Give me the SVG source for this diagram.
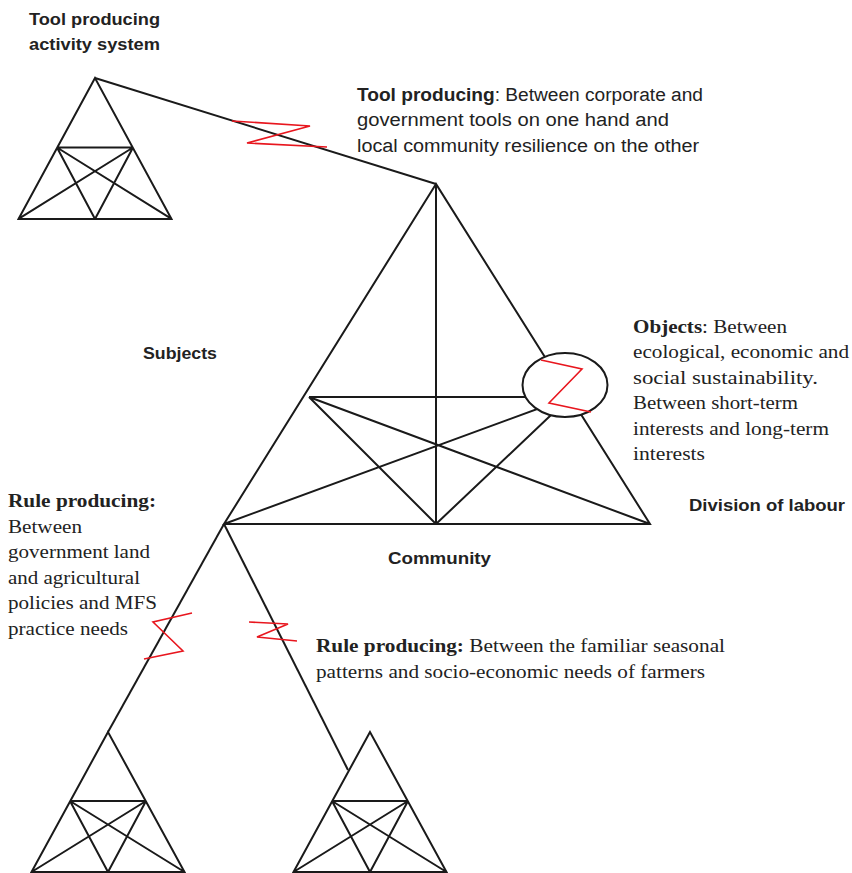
<svg xmlns="http://www.w3.org/2000/svg" width="852" height="873" viewBox="0 0 852 873">
<style>
.ln{fill:none;stroke:#1a1a1a;stroke-width:2;stroke-linejoin:miter;stroke-linecap:butt}
.rd{fill:none;stroke:#e8161e;stroke-width:1.6;stroke-linejoin:miter}
.sb{font-family:"Liberation Sans","Open Sans",sans-serif;font-weight:bold;font-size:17px;fill:#222}
.s{font-family:"Liberation Sans","Open Sans",sans-serif;font-size:18px;fill:#222}
.tb{font-family:"Liberation Serif","Times New Roman",serif;font-weight:bold;font-size:19px;fill:#222}
.t{font-family:"Liberation Serif","Times New Roman",serif;font-size:19px;fill:#222}
</style>
<defs>
<path id="tri" class="ln" d="M0,0 L-76.5,140 L76.5,140 Z M-38,69 L38,69 M-38,69 L76.5,140 M-38,69 L0,140 M38,69 L-76.5,140 M38,69 L0,140"/>
</defs>
<rect width="852" height="873" fill="#fff"/>

<g id="connectors">
<path class="ln" d="M95,78 L436,184"/>
<path class="ln" d="M224,524 L108,732"/>
<path class="ln" d="M224,524 L348,770"/>
<path class="rd" d="M232,121 L310,126 L247,143 L327,147"/>
<path class="rd" d="M192,613 L153,622 L183,651 L144,659"/>
<path class="rd" d="M249,622 L288,624 L257,637 L297,641"/>
</g>

<g id="tool-system">
<use href="#tri" transform="translate(95,78) scale(1,1.007)"/>
</g>

<g id="main-system">
<path class="ln" d="M436,184 L224,524 L650,524 Z M436,184 L436,524 M309,397 L570,397 M309,397 L650,524 M309,397 L436,524 M570,397 L224,524 M570,397 L436,524"/>
<ellipse cx="565" cy="385" rx="42.5" ry="32" fill="#fff" stroke="#1a1a1a" stroke-width="2"/>
<path class="rd" d="M541,360 L582,369 L549,403 L591,412"/>
</g>

<g id="rule-system-left">
<use href="#tri" transform="translate(108,732)"/>
</g>

<g id="rule-system-right">
<use href="#tri" transform="translate(370,732)"/>
</g>

<g id="labels">
<text class="sb" x="29" y="25" textLength="131" lengthAdjust="spacingAndGlyphs">Tool producing</text>
<text class="sb" x="29" y="50" textLength="131" lengthAdjust="spacingAndGlyphs">activity system</text>
<text class="s" x="357" y="101" textLength="346" lengthAdjust="spacingAndGlyphs"><tspan font-weight="bold">Tool producing</tspan>: Between corporate and</text>
<text class="s" x="357" y="126" textLength="312" lengthAdjust="spacingAndGlyphs">government tools on one hand and</text>
<text class="s" x="357" y="152" textLength="342" lengthAdjust="spacingAndGlyphs">local community resilience on the other</text>
<text class="sb" x="143" y="359" textLength="74" lengthAdjust="spacingAndGlyphs">Subjects</text>
<text class="sb" x="689" y="511" textLength="156" lengthAdjust="spacingAndGlyphs">Division of labour</text>
<text class="sb" x="388" y="564" textLength="103" lengthAdjust="spacingAndGlyphs">Community</text>
<text class="t" x="633" y="333" textLength="154" lengthAdjust="spacingAndGlyphs"><tspan font-weight="bold">Objects</tspan>: Between</text>
<text class="t" x="633" y="358" textLength="216" lengthAdjust="spacingAndGlyphs">ecological, economic and</text>
<text class="t" x="633" y="384" textLength="185" lengthAdjust="spacingAndGlyphs">social sustainability.</text>
<text class="t" x="633" y="409" textLength="165" lengthAdjust="spacingAndGlyphs">Between short-term</text>
<text class="t" x="633" y="435" textLength="196" lengthAdjust="spacingAndGlyphs">interests and long-term</text>
<text class="t" x="633" y="460" textLength="72" lengthAdjust="spacingAndGlyphs">interests</text>
<text class="tb" x="8" y="507" textLength="148" lengthAdjust="spacingAndGlyphs">Rule producing:</text>
<text class="t" x="8" y="533" textLength="74" lengthAdjust="spacingAndGlyphs">Between</text>
<text class="t" x="8" y="558" textLength="142" lengthAdjust="spacingAndGlyphs">government land</text>
<text class="t" x="8" y="584" textLength="132" lengthAdjust="spacingAndGlyphs">and agricultural</text>
<text class="t" x="8" y="609" textLength="149" lengthAdjust="spacingAndGlyphs">policies and MFS</text>
<text class="t" x="8" y="635" textLength="120" lengthAdjust="spacingAndGlyphs">practice needs</text>
<text class="t" x="316" y="652" textLength="409" lengthAdjust="spacingAndGlyphs"><tspan font-weight="bold">Rule producing:</tspan> Between the familiar seasonal</text>
<text class="t" x="316" y="678" textLength="389" lengthAdjust="spacingAndGlyphs">patterns and socio-economic needs of farmers</text>
</g>
</svg>
